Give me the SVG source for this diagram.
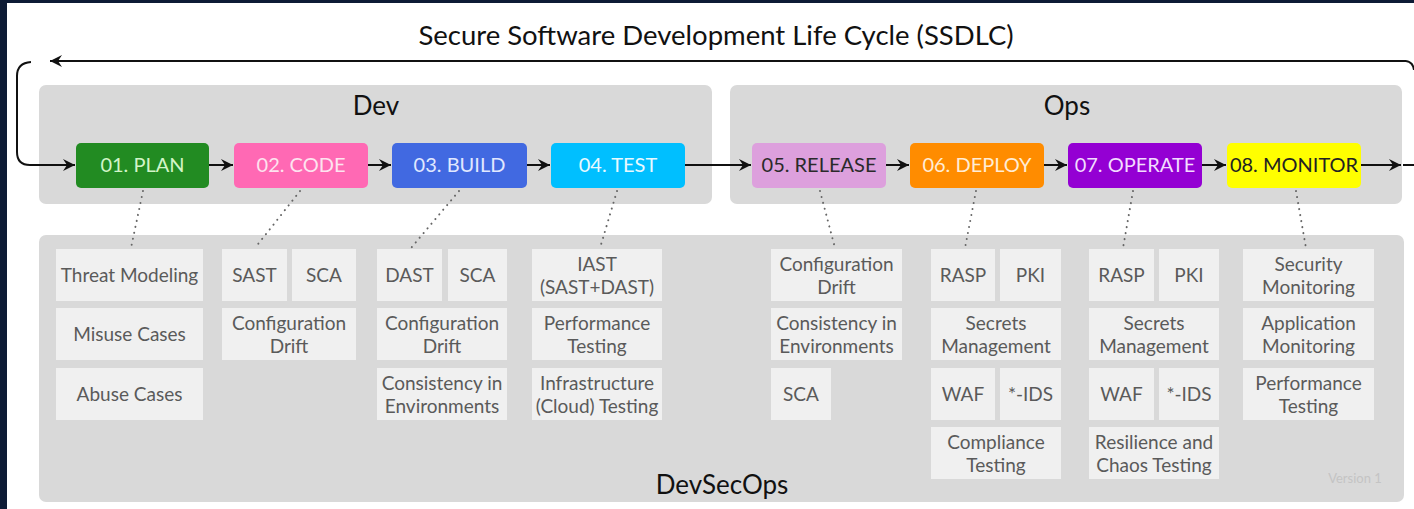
<svg xmlns="http://www.w3.org/2000/svg" width="1414" height="509" viewBox="0 0 1414 509">
  <style>
    .lato { font-family: Lato, "Open Sans", "Liberation Sans", sans-serif; }
    .title { font-size: 27.5px; fill: #111; }
    .group { fill: #d9d9d9; }
    .glabel { font-size: 26px; fill: #111; }
    .stage-text { font-size: 20px; }
    .item { fill: #f0f0f0; }
    .item-text { font-size: 19px; fill: #5a5a5a; }
    .flow { fill: none; stroke: #111; stroke-width: 2; }
    .dots { fill: none; stroke: #666; stroke-width: 2; stroke-linecap: round; stroke-dasharray: 0.1 6; }
  </style>
  <defs>
    <marker id="arrow" markerUnits="userSpaceOnUse" markerWidth="13" markerHeight="12" refX="12" refY="6" orient="auto">
      <path d="M0,0 L12,6 L0,12 L4,6 z" fill="#111"/>
    </marker>
  </defs>

  <!-- page background and frame -->
  <rect x="0" y="0" width="1414" height="509" fill="#ffffff"/>
  <rect x="0" y="0" width="1414" height="3" fill="#0d1b35"/>
  <rect x="0" y="0" width="7" height="509" fill="#0d1b35"/>

  <text class="lato title" x="716" y="45" text-anchor="middle">Secure Software Development Life Cycle (SSDLC)</text>

  <!-- phase groups -->
  <g id="dev">
    <rect class="group" x="39" y="85" width="673" height="119" rx="7"/>
    <text class="lato glabel" x="376" y="115" text-anchor="middle">Dev</text>
  </g>
  <g id="ops">
    <rect class="group" x="730" y="85" width="672" height="119" rx="7"/>
    <text class="lato glabel" x="1067" y="115" text-anchor="middle">Ops</text>
  </g>
  <g id="devsecops">
    <rect class="group" x="39" y="235" width="1365" height="267" rx="7"/>
    <text class="lato glabel" x="722" y="494" text-anchor="middle">DevSecOps</text>
    <text class="lato" x="1355" y="483" text-anchor="middle" font-size="13" fill="#c4c4c4">Version 1</text>
  </g>

  <!-- connectors -->
  <g id="connectors">
    <path class="flow" d="M1406,61 L50,61" marker-end="url(#arrow)"/>
    <path class="flow" d="M1406,61 Q1413,62 1414,70"/>
    <path class="flow" d="M31,62 Q17,63 17,76 L17,152 Q17,165 30,165 L75,165" marker-end="url(#arrow)"/>
    <path class="flow" d="M209,165 L233,165" marker-end="url(#arrow)"/>
    <path class="flow" d="M368,165 L391,165" marker-end="url(#arrow)"/>
    <path class="flow" d="M527,165 L550,165" marker-end="url(#arrow)"/>
    <path class="flow" d="M685,165 L751,165" marker-end="url(#arrow)"/>
    <path class="flow" d="M886,165 L909,165" marker-end="url(#arrow)"/>
    <path class="flow" d="M1044,165 L1067,165" marker-end="url(#arrow)"/>
    <path class="flow" d="M1202,165 L1226,165" marker-end="url(#arrow)"/>
    <path class="flow" d="M1361,165 L1401,165" marker-end="url(#arrow)"/>
    <path class="flow" d="M1403,165 L1414,165"/>

    <path class="dots" d="M143,191 L131,248"/>
    <path class="dots" d="M300,191 L255,248"/>
    <path class="dots" d="M459,191 L411,248"/>
    <path class="dots" d="M617,191 L600,248"/>
    <path class="dots" d="M820,191 L835,248"/>
    <path class="dots" d="M976,191 L965,248"/>
    <path class="dots" d="M1133,191 L1123,248"/>
    <path class="dots" d="M1296,191 L1306,248"/>
  </g>

  <!-- lifecycle stages -->
  <g id="stage-plan">
    <rect x="76" y="143" width="133" height="45" rx="5" fill="#228b22"/>
    <text class="lato stage-text" x="142.5" y="172" text-anchor="middle" fill="#d2f5c8">01. PLAN</text>
  </g>
  <g id="stage-code">
    <rect x="234" y="143" width="134" height="45" rx="5" fill="#ff69b4"/>
    <text class="lato stage-text" x="301" y="172" text-anchor="middle" fill="#fde3ef">02. CODE</text>
  </g>
  <g id="stage-build">
    <rect x="392" y="143" width="135" height="45" rx="5" fill="#4169e1"/>
    <text class="lato stage-text" x="459.5" y="172" text-anchor="middle" fill="#e0e8ff">03. BUILD</text>
  </g>
  <g id="stage-test">
    <rect x="551" y="143" width="134" height="45" rx="5" fill="#00bfff"/>
    <text class="lato stage-text" x="618" y="172" text-anchor="middle" fill="#e8f9ff">04. TEST</text>
  </g>
  <g id="stage-release">
    <rect x="752" y="143" width="134" height="45" rx="5" fill="#dda0dd"/>
    <text class="lato stage-text" x="819" y="172" text-anchor="middle" fill="#2a2a2a">05. RELEASE</text>
  </g>
  <g id="stage-deploy">
    <rect x="910" y="143" width="134" height="45" rx="5" fill="#ff8c00"/>
    <text class="lato stage-text" x="977" y="172" text-anchor="middle" fill="#ffecd6">06. DEPLOY</text>
  </g>
  <g id="stage-operate">
    <rect x="1068" y="143" width="134" height="45" rx="5" fill="#9400d3"/>
    <text class="lato stage-text" x="1135" y="172" text-anchor="middle" fill="#f2dcff">07. OPERATE</text>
  </g>
  <g id="stage-monitor">
    <rect x="1227" y="143" width="134" height="45" rx="5" fill="#ffff00"/>
    <text class="lato stage-text" x="1294" y="172" text-anchor="middle" fill="#222">08. MONITOR</text>
  </g>

  <!-- practices per stage -->
  <g id="items-plan" class="lato">
    <rect class="item" x="56" y="249" width="147" height="52"/>
    <text class="item-text" x="129.5" y="282" text-anchor="middle">Threat Modeling</text>
    <rect class="item" x="56" y="308" width="147" height="52"/>
    <text class="item-text" x="129.5" y="341" text-anchor="middle">Misuse Cases</text>
    <rect class="item" x="56" y="368" width="147" height="52"/>
    <text class="item-text" x="129.5" y="401" text-anchor="middle">Abuse Cases</text>
  </g>
  <g id="items-code" class="lato">
    <rect class="item" x="222" y="249" width="65" height="52"/>
    <text class="item-text" x="254.5" y="282" text-anchor="middle">SAST</text>
    <rect class="item" x="292" y="249" width="64" height="52"/>
    <text class="item-text" x="324" y="282" text-anchor="middle">SCA</text>
    <rect class="item" x="222" y="308" width="134" height="52"/>
    <text class="item-text" x="289" y="330" text-anchor="middle">Configuration</text>
    <text class="item-text" x="289" y="353" text-anchor="middle">Drift</text>
  </g>
  <g id="items-build" class="lato">
    <rect class="item" x="377" y="249" width="65" height="52"/>
    <text class="item-text" x="409.5" y="282" text-anchor="middle">DAST</text>
    <rect class="item" x="448" y="249" width="59" height="52"/>
    <text class="item-text" x="477.5" y="282" text-anchor="middle">SCA</text>
    <rect class="item" x="377" y="308" width="130" height="52"/>
    <text class="item-text" x="442" y="330" text-anchor="middle">Configuration</text>
    <text class="item-text" x="442" y="353" text-anchor="middle">Drift</text>
    <rect class="item" x="377" y="368" width="130" height="52"/>
    <text class="item-text" x="442" y="390" text-anchor="middle">Consistency in</text>
    <text class="item-text" x="442" y="413" text-anchor="middle">Environments</text>
  </g>
  <g id="items-test" class="lato">
    <rect class="item" x="532" y="249" width="130" height="52"/>
    <text class="item-text" x="597" y="271" text-anchor="middle">IAST</text>
    <text class="item-text" x="597" y="294" text-anchor="middle">(SAST+DAST)</text>
    <rect class="item" x="532" y="308" width="130" height="52"/>
    <text class="item-text" x="597" y="330" text-anchor="middle">Performance</text>
    <text class="item-text" x="597" y="353" text-anchor="middle">Testing</text>
    <rect class="item" x="532" y="368" width="130" height="52"/>
    <text class="item-text" x="597" y="390" text-anchor="middle">Infrastructure</text>
    <text class="item-text" x="597" y="413" text-anchor="middle">(Cloud) Testing</text>
  </g>
  <g id="items-release" class="lato">
    <rect class="item" x="771" y="249" width="131" height="52"/>
    <text class="item-text" x="836.5" y="271" text-anchor="middle">Configuration</text>
    <text class="item-text" x="836.5" y="294" text-anchor="middle">Drift</text>
    <rect class="item" x="771" y="308" width="131" height="52"/>
    <text class="item-text" x="836.5" y="330" text-anchor="middle">Consistency in</text>
    <text class="item-text" x="836.5" y="353" text-anchor="middle">Environments</text>
    <rect class="item" x="771" y="368" width="60" height="52"/>
    <text class="item-text" x="801" y="401" text-anchor="middle">SCA</text>
  </g>
  <g id="items-deploy" class="lato">
    <rect class="item" x="931" y="249" width="64" height="52"/>
    <text class="item-text" x="963" y="282" text-anchor="middle">RASP</text>
    <rect class="item" x="1000" y="249" width="61" height="52"/>
    <text class="item-text" x="1030.5" y="282" text-anchor="middle">PKI</text>
    <rect class="item" x="931" y="308" width="130" height="52"/>
    <text class="item-text" x="996" y="330" text-anchor="middle">Secrets</text>
    <text class="item-text" x="996" y="353" text-anchor="middle">Management</text>
    <rect class="item" x="931" y="368" width="64" height="52"/>
    <text class="item-text" x="963" y="401" text-anchor="middle">WAF</text>
    <rect class="item" x="1000" y="368" width="61" height="52"/>
    <text class="item-text" x="1030.5" y="401" text-anchor="middle">*-IDS</text>
    <rect class="item" x="931" y="427" width="130" height="52"/>
    <text class="item-text" x="996" y="449" text-anchor="middle">Compliance</text>
    <text class="item-text" x="996" y="472" text-anchor="middle">Testing</text>
  </g>
  <g id="items-operate" class="lato">
    <rect class="item" x="1089" y="249" width="65" height="52"/>
    <text class="item-text" x="1121.5" y="282" text-anchor="middle">RASP</text>
    <rect class="item" x="1159" y="249" width="60" height="52"/>
    <text class="item-text" x="1189" y="282" text-anchor="middle">PKI</text>
    <rect class="item" x="1089" y="308" width="130" height="52"/>
    <text class="item-text" x="1154" y="330" text-anchor="middle">Secrets</text>
    <text class="item-text" x="1154" y="353" text-anchor="middle">Management</text>
    <rect class="item" x="1089" y="368" width="65" height="52"/>
    <text class="item-text" x="1121.5" y="401" text-anchor="middle">WAF</text>
    <rect class="item" x="1159" y="368" width="60" height="52"/>
    <text class="item-text" x="1189" y="401" text-anchor="middle">*-IDS</text>
    <rect class="item" x="1089" y="427" width="130" height="52"/>
    <text class="item-text" x="1154" y="449" text-anchor="middle">Resilience and</text>
    <text class="item-text" x="1154" y="472" text-anchor="middle">Chaos Testing</text>
  </g>
  <g id="items-monitor" class="lato">
    <rect class="item" x="1243" y="249" width="131" height="52"/>
    <text class="item-text" x="1308.5" y="271" text-anchor="middle">Security</text>
    <text class="item-text" x="1308.5" y="294" text-anchor="middle">Monitoring</text>
    <rect class="item" x="1243" y="308" width="131" height="52"/>
    <text class="item-text" x="1308.5" y="330" text-anchor="middle">Application</text>
    <text class="item-text" x="1308.5" y="353" text-anchor="middle">Monitoring</text>
    <rect class="item" x="1243" y="368" width="131" height="52"/>
    <text class="item-text" x="1308.5" y="390" text-anchor="middle">Performance</text>
    <text class="item-text" x="1308.5" y="413" text-anchor="middle">Testing</text>
  </g>
</svg>
